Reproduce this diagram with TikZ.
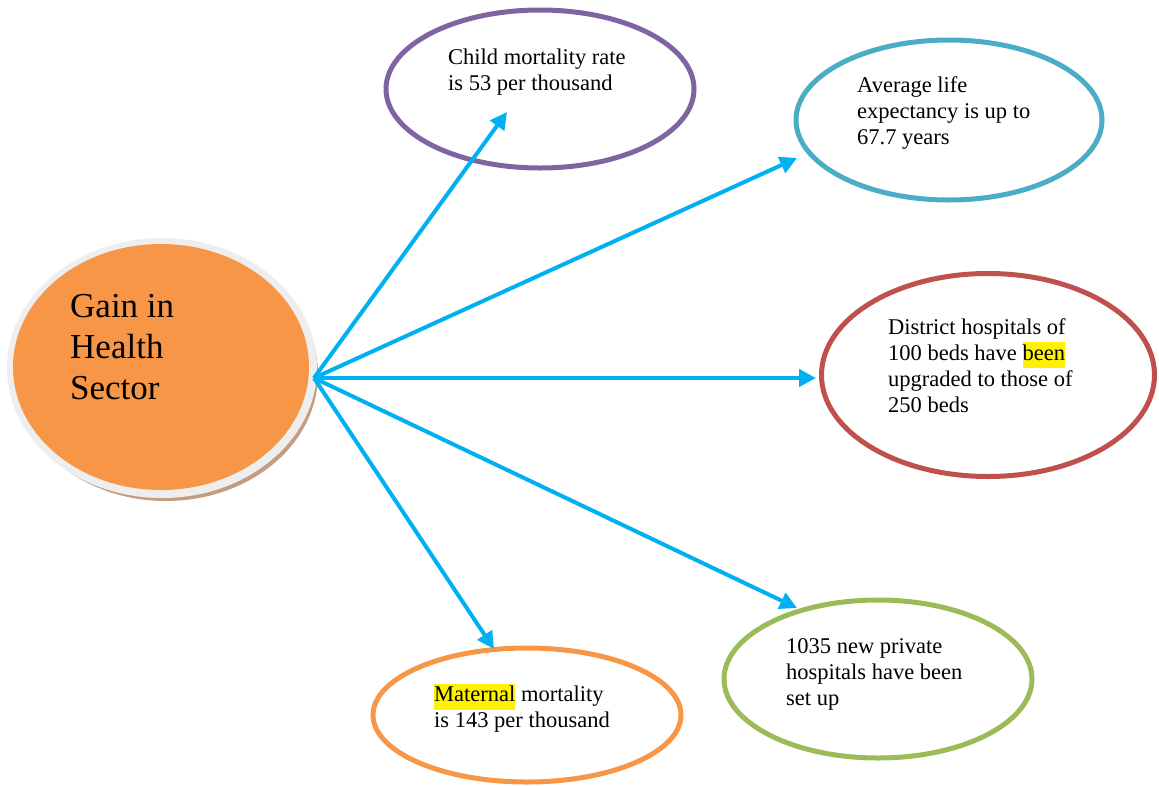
\documentclass[tikz,border=0pt]{standalone}
\usepackage{fontspec}
\setmainfont{Liberation Serif}
\newfontfamily\hubfont{Liberation Serif}
\usetikzlibrary{shapes.geometric,arrows.meta}
\definecolor{cpurple}{HTML}{8064A2}
\definecolor{cteal}{HTML}{4BACC6}
\definecolor{cred}{HTML}{C0504D}
\definecolor{cgreen}{HTML}{9BBB59}
\definecolor{corange}{HTML}{F79646}
\definecolor{carrow}{HTML}{00B0F0}
\definecolor{crim}{HTML}{EEEEEE}
\definecolor{cshadow}{HTML}{C49C80}
\newcommand{\hl}[1]{{\setlength{\fboxsep}{0pt}\colorbox{yellow}{\strut #1}}}
\tikzset{
  bubble/.style={ellipse, draw, line width=5pt, inner sep=0pt, fill=white},
  label/.style={anchor=north west, align=left, inner sep=0pt,
    font=\rmfamily\fontsize{22.5}{26}\selectfont},
  spoke/.style={carrow, line width=4pt, -{Triangle[length=17pt,width=17pt]}},
}
\begin{document}
\begin{tikzpicture}[x=1pt,y=-1pt]
\useasboundingbox (0,0) rectangle (1159,785);

% central hub: shadow, light rim, orange body
\fill[cshadow] (166,374) ellipse [x radius=152, y radius=127];
\fill[crim] (162,368) ellipse [x radius=155, y radius=130];
\node[ellipse, fill=corange, inner sep=0pt, minimum width=296pt, minimum height=246pt]
  (hub) at (161,367) {};
\node[anchor=north west, align=left, inner sep=0pt,
  font=\hubfont\fontsize{35}{41}\selectfont] (hubtext) at (70,294) {Gain in\\Health\\Sector};
\coordinate (src) at (314,378);

% outcome bubbles
\node[bubble, draw=cpurple, minimum width=308pt, minimum height=158pt] (child) at (540,89) {};
\node[bubble, draw=cteal, minimum width=306pt, minimum height=160pt] (life) at (949,120) {};
\node[bubble, draw=cred, minimum width=333pt, minimum height=203pt] (district) at (988,375) {};
\node[bubble, draw=cgreen, minimum width=308pt, minimum height=158pt] (private) at (878,679) {};
\node[bubble, draw=corange, minimum width=308pt, minimum height=134pt] (maternal) at (527,715) {};

\node[label] (childtext) at (448,48.5) {Child mortality rate\\is 53 per thousand};
\node[label] (lifetext) at (857,76) {Average life\\expectancy is up to\\67.7 years};
\node[label] (districttext) at (888,318.5) {District hospitals of\\100 beds have \hl{been}\\upgraded to those of\\250 beds};
\node[label] (privatetext) at (786,638) {1035 new private\\hospitals have been\\set up};
\node[label] (maternaltext) at (434,683.5) {\hl{Maternal} mortality\\is 143 per thousand};

% arrow end points
\coordinate (toChild) at (507,112);
\coordinate (toLife) at (797,158);
\coordinate (toDistrict) at (816,378);
\coordinate (toPrivate) at (797,608);
\coordinate (toMaternal) at (494,649);

\draw[spoke] (src) -- (toChild);
\draw[spoke] (src) -- (toLife);
\draw[spoke] (src) -- (toDistrict);
\draw[spoke] (src) -- (toPrivate);
\draw[spoke] (src) -- (toMaternal);
\end{tikzpicture}
\end{document}
